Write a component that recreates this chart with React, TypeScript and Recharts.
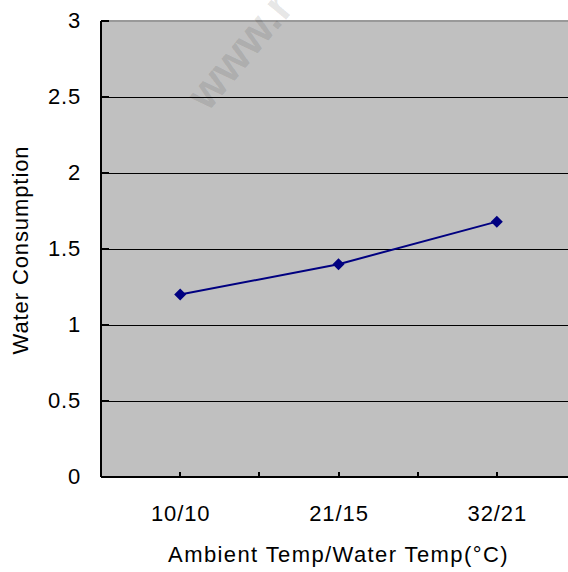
import { LineChart, Line, XAxis, YAxis, CartesianGrid, ReferenceLine, Label } from "recharts";

const categories = ["10/10", "21/15", "32/21"];
const waterConsumption = [1.2, 1.4, 1.68];
const yTicks = [0, 0.5, 1, 1.5, 2, 2.5, 3];

// categories sit on every other tick of the axis (1, 3, 5)
const data = categories.map((name, i) => ({ x: i * 2 + 1, name, value: waterConsumption[i] }));
const xTicks = [1, 2, 3, 4, 5];

const FONT = "'Liberation Sans', Arial, sans-serif";

const Diamond = (props: any) => {
  const { cx, cy } = props;
  if (cx == null || cy == null) return null;
  const r = 6;
  return (
    <path
      d={`M${cx},${cy - r}L${cx + r},${cy}L${cx},${cy + r}L${cx - r},${cy}Z`}
      fill="#000080"
      stroke="none"
    />
  );
};

const XTick = (props: any) => {
  const { x, payload } = props;
  const v = payload.value;
  if (v % 2 !== 1) return null;
  return (
    <text x={x + 0.5} y={521} textAnchor="middle" fontSize={22} letterSpacing={0.9} fontFamily={FONT} fill="#000">
      {categories[(v - 1) / 2]}
    </text>
  );
};

const YTick = (props: any) => {
  const { y, payload } = props;
  return (
    <text x={81} y={y + 7} textAnchor="end" fontSize={22} letterSpacing={0.8} fontFamily={FONT} fill="#000">
      {payload.value}
    </text>
  );
};

export default function App() {
  return (
    <div style={{ position: "fixed", left: 0, top: 0, width: 568, height: 572, overflow: "hidden", fontFamily: FONT, background: "#fff" }}>
      <LineChart
        width={576}
        height={572}
        data={data}
        margin={{ top: 21, right: 0, left: 0, bottom: 35 }}
      >
        <CartesianGrid vertical={false} stroke="#000" strokeWidth={1} fill="#C0C0C0" fillOpacity={1} shapeRendering="crispEdges" />
        <XAxis
          dataKey="x"
          type="number"
          domain={[0, 6]}
          ticks={xTicks}
          interval={0}
          height={60}
          stroke="#000"
          strokeWidth={2}
          tickSize={-5}
          tickMargin={33}
          tick={<XTick />}
          shapeRendering="crispEdges"
        >
          <Label
            content={(p: any) => {
              const vb = p.viewBox || {};
              return (
                <text x={vb.x + (vb.width * 3) / 6} y={562} textAnchor="middle" fontSize={22} letterSpacing={1.4} fontFamily={FONT} fill="#000">
                  Ambient Temp/Water Temp(°C)
                </text>
              );
            }}
          />
        </XAxis>
        <YAxis
          domain={[0, 3]}
          ticks={yTicks}
          interval={0}
          width={101}
          stroke="#000"
          strokeWidth={2}
          tickSize={-8}
          tickMargin={29}
          tick={<YTick />}
          shapeRendering="crispEdges"
        >
          <Label
            content={(p: any) => {
              const vb = p.viewBox || {};
              const cy = vb.y + vb.height / 2 + 1;
              return (
                <text x={28} y={cy} transform={`rotate(-90 28 ${cy})`} textAnchor="middle" fontSize={22} letterSpacing={0.9} fontFamily={FONT} fill="#000">
                  Water Consumption
                </text>
              );
            }}
          />
        </YAxis>
        <ReferenceLine y={3} stroke="#999" strokeWidth={2} shapeRendering="crispEdges" />
        <Line
          type="linear"
          dataKey="value"
          stroke="#000080"
          strokeWidth={2}
          dot={<Diamond />}
          activeDot={false}
          isAnimationActive={false}
        />
      </LineChart>
      <div
        style={{
          position: "absolute",
          left: 214,
          top: 70,
          transform: "rotate(-50deg)",
          transformOrigin: "left bottom",
          fontSize: 46,
          lineHeight: "48px",
          fontWeight: "bold",
          color: "rgba(0,0,0,0.11)",
          pointerEvents: "none",
          whiteSpace: "nowrap",
        }}
      >
        www.r
      </div>
    </div>
  );
}
